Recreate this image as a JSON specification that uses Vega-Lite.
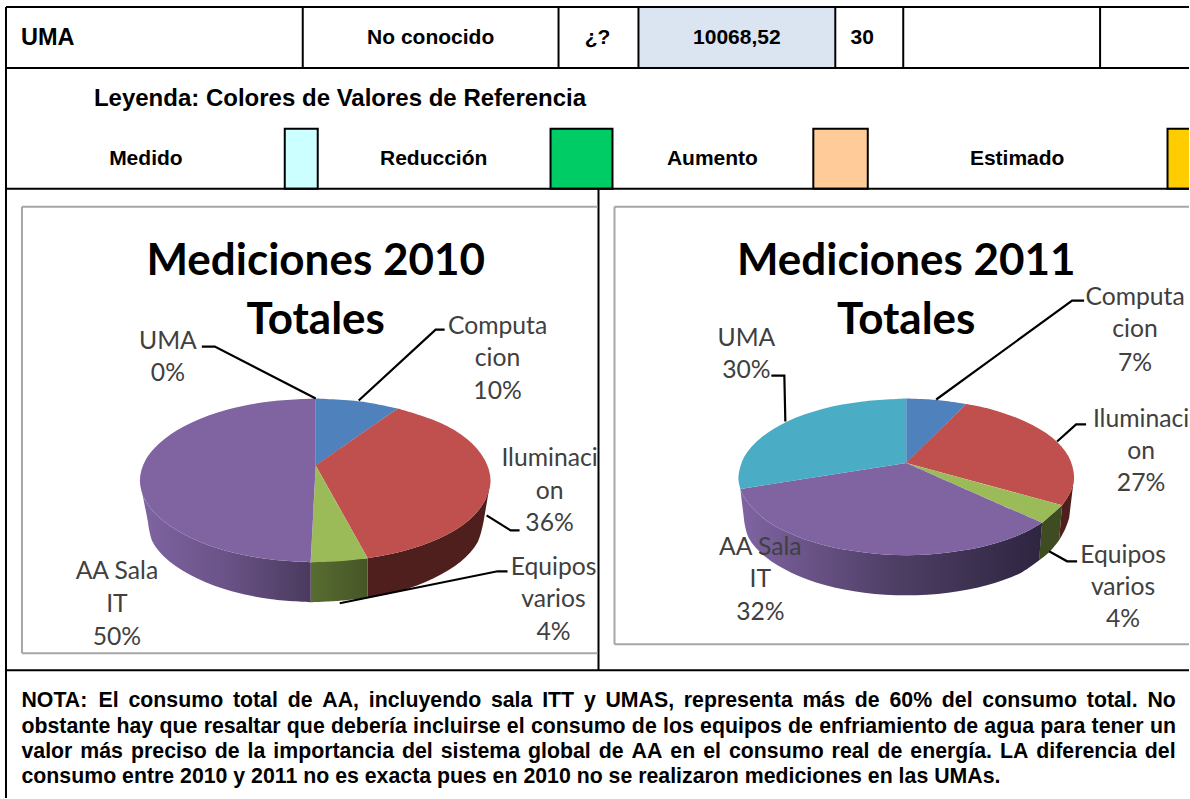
{"$schema":"https://vega.github.io/schema/vega-lite/v6.json","width":1190,"height":799,"padding":0,"autosize":{"type":"fit","contains":"padding"},"background":"white","config":{"view":{"stroke":null},"axis":{"domain":false}},
"resolve":{"scale":{"fill":"independent"}},
"encoding":{"x":{"field":"x","type":"quantitative","scale":{"domain":[0,1190],"nice":false,"zero":false},"axis":null},"y":{"field":"y","type":"quantitative","scale":{"domain":[799,0],"nice":false,"zero":false},"axis":null}},
"layer":[
{"data":{"values":[{"cell":"valor","x":639,"x2":836,"y":7,"y2":68}]},"mark":{"type":"rect","fill":"#dbe5f1"},"encoding":{"x2":{"field":"x2"},"y2":{"field":"y2"}}},
{"data":{"values":[{"cell":"Medido","x":285,"x2":318,"y":129,"y2":189},{"cell":"Reducción","x":551,"x2":613,"y":129,"y2":189},{"cell":"Aumento","x":814,"x2":868.5,"y":129,"y2":189},{"cell":"Estimado","x":1168.5,"x2":1200,"y":129,"y2":189}]},"mark":{"type":"rect","clip":true,"stroke":"black","strokeWidth":2},"encoding":{"x2":{"field":"x2"},"y2":{"field":"y2"},"fill":{"field":"cell","type":"nominal","legend":null,"scale":{"domain":["Medido","Reducción","Aumento","Estimado"],"range":["#ccffff","#00cc66","#ffcc99","#ffcc00"]}}}},
{"data":{"values":[{"x":6,"x2":1190,"y":7,"y2":7},{"x":6,"x2":1190,"y":68,"y2":68},{"x":6,"x2":1190,"y":189,"y2":189},{"x":6,"x2":1190,"y":671,"y2":671},{"x":6,"x2":6,"y":7,"y2":799},{"x":303,"x2":303,"y":7,"y2":68},{"x":559,"x2":559,"y":7,"y2":68},{"x":639,"x2":639,"y":7,"y2":68},{"x":836,"x2":836,"y":7,"y2":68},{"x":904,"x2":904,"y":7,"y2":68},{"x":1101,"x2":1101,"y":7,"y2":68},{"x":599,"x2":599,"y":189,"y2":671}]},"mark":{"type":"rule","stroke":"black","strokeWidth":2},"encoding":{"x2":{"field":"x2"},"y2":{"field":"y2"}}},
{"data":{"values":[{"x":22,"x2":598,"y":207,"y2":207},{"x":22,"x2":598,"y":654,"y2":654},{"x":22,"x2":22,"y":207,"y2":654},{"x":615,"x2":1190,"y":207,"y2":207},{"x":615,"x2":1190,"y":645,"y2":645},{"x":615,"x2":615,"y":207,"y2":645}]},"mark":{"type":"rule","stroke":"#a6a6a6","strokeWidth":2},"encoding":{"x2":{"field":"x2"},"y2":{"field":"y2"}}},
{"data":{"values":[
{"p":"w10red","o":1,"x":491,"y":481},{"p":"w10red","o":2,"x":491,"y":481},{"p":"w10red","o":3,"x":485,"y":502},{"p":"w10red","o":4,"x":468,"y":522},{"p":"w10red","o":5,"x":440,"y":539},{"p":"w10red","o":6,"x":403,"y":552},{"p":"w10red","o":7,"x":368,"y":559},{"p":"w10red","o":8,"x":368,"y":559},{"p":"w10red","o":9,"x":368,"y":598.5},{"p":"w10red","o":10,"x":368,"y":598.5},{"p":"w10red","o":11,"x":400,"y":592},{"p":"w10red","o":12,"x":434,"y":579},{"p":"w10red","o":13,"x":461,"y":562.5},{"p":"w10red","o":14,"x":478,"y":543},{"p":"w10red","o":15,"x":484,"y":522},{"p":"w10red","o":16,"x":484,"y":522},
{"p":"w11red","o":1,"x":1075,"y":477.5},{"p":"w11red","o":2,"x":1075,"y":477.5},{"p":"w11red","o":3,"x":1072,"y":491},{"p":"w11red","o":4,"x":1063,"y":506},{"p":"w11red","o":5,"x":1063,"y":506},{"p":"w11red","o":6,"x":1060,"y":541},{"p":"w11red","o":7,"x":1060,"y":541},{"p":"w11red","o":8,"x":1066,"y":530},{"p":"w11red","o":9,"x":1070,"y":519},{"p":"w11red","o":10,"x":1070,"y":519}
]},"mark":{"type":"line","fill":"#4f1f1d","strokeWidth":0,"interpolate":"catmull-rom"},"encoding":{"order":{"field":"o","type":"quantitative"},"detail":{"field":"p"}}},
{"data":{"values":[
{"p":"w10green","o":1,"x":368,"y":559},{"p":"w10green","o":2,"x":368,"y":559},{"p":"w10green","o":3,"x":311,"y":563},{"p":"w10green","o":4,"x":311,"y":563},{"p":"w10green","o":5,"x":311,"y":603},{"p":"w10green","o":6,"x":311,"y":603},{"p":"w10green","o":7,"x":340,"y":601.5},{"p":"w10green","o":8,"x":368,"y":598.5},{"p":"w10green","o":9,"x":368,"y":598.5}
]},"mark":{"type":"line","strokeWidth":0,"interpolate":"catmull-rom","fill":{"gradient":"linear","x1":0,"x2":1,"y1":0,"y2":0,"stops":[{"offset":0,"color":"#586d31"},{"offset":1,"color":"#465526"}]}},"encoding":{"order":{"field":"o","type":"quantitative"},"detail":{"field":"p"}}},
{"data":{"values":[
{"p":"w11green","o":1,"x":1063,"y":506},{"p":"w11green","o":2,"x":1063,"y":506},{"p":"w11green","o":3,"x":1043,"y":523.5},{"p":"w11green","o":4,"x":1043,"y":523.5},{"p":"w11green","o":5,"x":1040,"y":561},{"p":"w11green","o":6,"x":1040,"y":561},{"p":"w11green","o":7,"x":1050,"y":553},{"p":"w11green","o":8,"x":1060,"y":541},{"p":"w11green","o":9,"x":1060,"y":541}
]},"mark":{"type":"line","fill":"#3f4c22","strokeWidth":0,"interpolate":"catmull-rom"},"encoding":{"order":{"field":"o","type":"quantitative"},"detail":{"field":"p"}}},
{"data":{"values":[
{"p":"w10purple","o":1,"x":311,"y":563},{"p":"w10purple","o":2,"x":311,"y":563},{"p":"w10purple","o":3,"x":270,"y":560},{"p":"w10purple","o":4,"x":228,"y":552},{"p":"w10purple","o":5,"x":192,"y":539},{"p":"w10purple","o":6,"x":164,"y":522},{"p":"w10purple","o":7,"x":146,"y":502},{"p":"w10purple","o":8,"x":140,"y":481},{"p":"w10purple","o":9,"x":140,"y":481},{"p":"w10purple","o":10,"x":148,"y":522},{"p":"w10purple","o":11,"x":148,"y":522},{"p":"w10purple","o":12,"x":153,"y":543},{"p":"w10purple","o":13,"x":170,"y":562.5},{"p":"w10purple","o":14,"x":197,"y":579},{"p":"w10purple","o":15,"x":232,"y":592},{"p":"w10purple","o":16,"x":272,"y":600},{"p":"w10purple","o":17,"x":311,"y":603},{"p":"w10purple","o":18,"x":311,"y":603}
]},"mark":{"type":"line","strokeWidth":0,"interpolate":"catmull-rom","fill":{"gradient":"linear","x1":0,"x2":1,"y1":0,"y2":0,"stops":[{"offset":0,"color":"#7f64a2"},{"offset":0.5,"color":"#6a5387"},{"offset":1,"color":"#4a3a5e"}]}},"encoding":{"order":{"field":"o","type":"quantitative"},"detail":{"field":"p"}}},
{"data":{"values":[
{"p":"w11purple","o":1,"x":1043,"y":523.5},{"p":"w11purple","o":2,"x":1043,"y":523.5},{"p":"w11purple","o":3,"x":1026,"y":533},{"p":"w11purple","o":4,"x":991,"y":545.5},{"p":"w11purple","o":5,"x":951,"y":553},{"p":"w11purple","o":6,"x":907,"y":556},{"p":"w11purple","o":7,"x":863.5,"y":553},{"p":"w11purple","o":8,"x":823,"y":545.5},{"p":"w11purple","o":9,"x":788,"y":533},{"p":"w11purple","o":10,"x":761.7,"y":517},{"p":"w11purple","o":11,"x":745,"y":498},{"p":"w11purple","o":12,"x":741,"y":489.5},{"p":"w11purple","o":13,"x":741,"y":489.5},{"p":"w11purple","o":14,"x":745,"y":523},{"p":"w11purple","o":15,"x":745,"y":523},{"p":"w11purple","o":16,"x":749.5,"y":539},{"p":"w11purple","o":17,"x":766,"y":557.5},{"p":"w11purple","o":18,"x":792,"y":573.4},{"p":"w11purple","o":19,"x":825.5,"y":585.7},{"p":"w11purple","o":20,"x":865,"y":593.4},{"p":"w11purple","o":21,"x":907,"y":596},{"p":"w11purple","o":22,"x":949,"y":593.4},{"p":"w11purple","o":23,"x":988.5,"y":585.7},{"p":"w11purple","o":24,"x":1022,"y":573.4},{"p":"w11purple","o":25,"x":1040,"y":561},{"p":"w11purple","o":26,"x":1040,"y":561}
]},"mark":{"type":"line","strokeWidth":0,"interpolate":"catmull-rom","fill":{"gradient":"linear","x1":0,"x2":1,"y1":0,"y2":0,"stops":[{"offset":0,"color":"#7f64a2"},{"offset":0.5,"color":"#4f3f66"},{"offset":1,"color":"#2e2540"}]}},"encoding":{"order":{"field":"o","type":"quantitative"},"detail":{"field":"p"}}},
{"data":{"values":[
{"s":"Computacion","p":"10a","o":1,"x":316,"y":466},{"s":"Computacion","p":"10a","o":2,"x":316,"y":466},{"s":"Computacion","p":"10a","o":3,"x":316,"y":399},{"s":"Computacion","p":"10a","o":4,"x":316,"y":399},{"s":"Computacion","p":"10a","o":5,"x":361,"y":402},{"s":"Computacion","p":"10a","o":6,"x":398,"y":409},{"s":"Computacion","p":"10a","o":7,"x":398,"y":409},
{"s":"Iluminacion","p":"10b","o":1,"x":316,"y":466},{"s":"Iluminacion","p":"10b","o":2,"x":316,"y":466},{"s":"Iluminacion","p":"10b","o":3,"x":398,"y":409},{"s":"Iluminacion","p":"10b","o":4,"x":398,"y":409},{"s":"Iluminacion","p":"10b","o":5,"x":440,"y":423},{"s":"Iluminacion","p":"10b","o":6,"x":468,"y":440},{"s":"Iluminacion","p":"10b","o":7,"x":485,"y":460},{"s":"Iluminacion","p":"10b","o":8,"x":491,"y":481},{"s":"Iluminacion","p":"10b","o":9,"x":485,"y":502},{"s":"Iluminacion","p":"10b","o":10,"x":468,"y":522},{"s":"Iluminacion","p":"10b","o":11,"x":440,"y":539},{"s":"Iluminacion","p":"10b","o":12,"x":403,"y":552},{"s":"Iluminacion","p":"10b","o":13,"x":368,"y":559},{"s":"Iluminacion","p":"10b","o":14,"x":368,"y":559},
{"s":"Equipos varios","p":"10c","o":1,"x":316,"y":466},{"s":"Equipos varios","p":"10c","o":2,"x":316,"y":466},{"s":"Equipos varios","p":"10c","o":3,"x":368,"y":559},{"s":"Equipos varios","p":"10c","o":4,"x":368,"y":559},{"s":"Equipos varios","p":"10c","o":5,"x":340,"y":562},{"s":"Equipos varios","p":"10c","o":6,"x":311,"y":563},{"s":"Equipos varios","p":"10c","o":7,"x":311,"y":563},
{"s":"AA Sala IT","p":"10d","o":1,"x":316,"y":466},{"s":"AA Sala IT","p":"10d","o":2,"x":316,"y":466},{"s":"AA Sala IT","p":"10d","o":3,"x":311,"y":563},{"s":"AA Sala IT","p":"10d","o":4,"x":311,"y":563},{"s":"AA Sala IT","p":"10d","o":5,"x":270,"y":560},{"s":"AA Sala IT","p":"10d","o":6,"x":228,"y":552},{"s":"AA Sala IT","p":"10d","o":7,"x":192,"y":539},{"s":"AA Sala IT","p":"10d","o":8,"x":164,"y":522},{"s":"AA Sala IT","p":"10d","o":9,"x":146,"y":502},{"s":"AA Sala IT","p":"10d","o":10,"x":140,"y":481},{"s":"AA Sala IT","p":"10d","o":11,"x":146,"y":460},{"s":"AA Sala IT","p":"10d","o":12,"x":164,"y":440},{"s":"AA Sala IT","p":"10d","o":13,"x":192,"y":423},{"s":"AA Sala IT","p":"10d","o":14,"x":228,"y":410},{"s":"AA Sala IT","p":"10d","o":15,"x":270,"y":402},{"s":"AA Sala IT","p":"10d","o":16,"x":316,"y":399},{"s":"AA Sala IT","p":"10d","o":17,"x":316,"y":399},
{"s":"Computacion","p":"11a","o":1,"x":907,"y":463.5},{"s":"Computacion","p":"11a","o":2,"x":907,"y":463.5},{"s":"Computacion","p":"11a","o":3,"x":907,"y":399},{"s":"Computacion","p":"11a","o":4,"x":907,"y":399},{"s":"Computacion","p":"11a","o":5,"x":938,"y":400.5},{"s":"Computacion","p":"11a","o":6,"x":967,"y":404.5},{"s":"Computacion","p":"11a","o":7,"x":967,"y":404.5},
{"s":"Iluminacion","p":"11b","o":1,"x":907,"y":463.5},{"s":"Iluminacion","p":"11b","o":2,"x":907,"y":463.5},{"s":"Iluminacion","p":"11b","o":3,"x":967,"y":404.5},{"s":"Iluminacion","p":"11b","o":4,"x":967,"y":404.5},{"s":"Iluminacion","p":"11b","o":5,"x":991,"y":409.5},{"s":"Iluminacion","p":"11b","o":6,"x":1026,"y":422},{"s":"Iluminacion","p":"11b","o":7,"x":1053,"y":438},{"s":"Iluminacion","p":"11b","o":8,"x":1069.5,"y":457},{"s":"Iluminacion","p":"11b","o":9,"x":1075,"y":477.5},{"s":"Iluminacion","p":"11b","o":10,"x":1072,"y":491},{"s":"Iluminacion","p":"11b","o":11,"x":1063,"y":506},{"s":"Iluminacion","p":"11b","o":12,"x":1063,"y":506},
{"s":"Equipos varios","p":"11c","o":1,"x":907,"y":463.5},{"s":"Equipos varios","p":"11c","o":2,"x":907,"y":463.5},{"s":"Equipos varios","p":"11c","o":3,"x":1063,"y":506},{"s":"Equipos varios","p":"11c","o":4,"x":1063,"y":506},{"s":"Equipos varios","p":"11c","o":5,"x":1043,"y":523.5},{"s":"Equipos varios","p":"11c","o":6,"x":1043,"y":523.5},
{"s":"AA Sala IT","p":"11d","o":1,"x":907,"y":463.5},{"s":"AA Sala IT","p":"11d","o":2,"x":907,"y":463.5},{"s":"AA Sala IT","p":"11d","o":3,"x":1043,"y":523.5},{"s":"AA Sala IT","p":"11d","o":4,"x":1043,"y":523.5},{"s":"AA Sala IT","p":"11d","o":5,"x":1026,"y":533},{"s":"AA Sala IT","p":"11d","o":6,"x":991,"y":545.5},{"s":"AA Sala IT","p":"11d","o":7,"x":951,"y":553},{"s":"AA Sala IT","p":"11d","o":8,"x":907,"y":556},{"s":"AA Sala IT","p":"11d","o":9,"x":863.5,"y":553},{"s":"AA Sala IT","p":"11d","o":10,"x":823,"y":545.5},{"s":"AA Sala IT","p":"11d","o":11,"x":788,"y":533},{"s":"AA Sala IT","p":"11d","o":12,"x":761.7,"y":517},{"s":"AA Sala IT","p":"11d","o":13,"x":745,"y":498},{"s":"AA Sala IT","p":"11d","o":14,"x":741,"y":489.5},{"s":"AA Sala IT","p":"11d","o":15,"x":741,"y":489.5},
{"s":"UMA","p":"11e","o":1,"x":907,"y":463.5},{"s":"UMA","p":"11e","o":2,"x":907,"y":463.5},{"s":"UMA","p":"11e","o":3,"x":741,"y":489.5},{"s":"UMA","p":"11e","o":4,"x":741,"y":489.5},{"s":"UMA","p":"11e","o":5,"x":739,"y":477.5},{"s":"UMA","p":"11e","o":6,"x":745,"y":457},{"s":"UMA","p":"11e","o":7,"x":762,"y":438},{"s":"UMA","p":"11e","o":8,"x":788,"y":422},{"s":"UMA","p":"11e","o":9,"x":823,"y":409.5},{"s":"UMA","p":"11e","o":10,"x":863.5,"y":402},{"s":"UMA","p":"11e","o":11,"x":907,"y":399},{"s":"UMA","p":"11e","o":12,"x":907,"y":399}
]},"mark":{"type":"line","strokeWidth":0,"interpolate":"catmull-rom"},"encoding":{"order":{"field":"o","type":"quantitative"},"detail":{"field":"p"},"fill":{"field":"s","type":"nominal","legend":null,"scale":{"domain":["Computacion","Iluminacion","Equipos varios","AA Sala IT","UMA"],"range":["#4f81bd","#c0504d","#9bbb59","#8064a2","#4bacc6"]}}}},
{"data":{"values":[
{"l":"a","o":1,"x":202,"y":347},{"l":"a","o":2,"x":215,"y":347},{"l":"a","o":3,"x":316,"y":399},
{"l":"b","o":1,"x":359,"y":401},{"l":"b","o":2,"x":436,"y":330},{"l":"b","o":3,"x":445,"y":330},
{"l":"c","o":1,"x":487,"y":516},{"l":"c","o":2,"x":511,"y":531},{"l":"c","o":3,"x":520,"y":531},
{"l":"d","o":1,"x":340,"y":604},{"l":"d","o":2,"x":498,"y":572},{"l":"d","o":3,"x":508,"y":572},
{"l":"e","o":1,"x":772,"y":376},{"l":"e","o":2,"x":785,"y":376},{"l":"e","o":3,"x":786,"y":422},
{"l":"f","o":1,"x":937,"y":400},{"l":"f","o":2,"x":1073,"y":301},{"l":"f","o":3,"x":1085,"y":301},
{"l":"g","o":1,"x":1058,"y":442},{"l":"g","o":2,"x":1077,"y":425},{"l":"g","o":3,"x":1087,"y":425},
{"l":"h","o":1,"x":1050,"y":552},{"l":"h","o":2,"x":1068,"y":562},{"l":"h","o":3,"x":1078,"y":562}
]},"mark":{"type":"line","stroke":"black","strokeWidth":2.2},"encoding":{"order":{"field":"o","type":"quantitative"},"detail":{"field":"l"}}},
{"data":{"values":[{"t":"Mediciones 2010","x":316,"y":262},{"t":"Totales","x":316,"y":321},{"t":"Mediciones 2011","x":907,"y":262},{"t":"Totales","x":907,"y":321}]},"mark":{"type":"text","font":"Lato","fontWeight":"bold","fontSize":44,"color":"black","align":"center","baseline":"middle"},"encoding":{"text":{"field":"t"}}},
{"data":{"values":[{"t":"Computa","x":498,"y":327},{"t":"cion","x":498,"y":359},{"t":"10%","x":498,"y":392},{"t":"UMA","x":168,"y":342},{"t":"0%","x":168,"y":374},{"t":"Iluminaci","x":550,"y":460},{"t":"on","x":550,"y":493},{"t":"36%","x":550,"y":525},{"t":"Equipos","x":554,"y":569},{"t":"varios","x":554,"y":601},{"t":"4%","x":554,"y":634},{"t":"AA Sala","x":117,"y":573},{"t":"IT","x":117,"y":606},{"t":"50%","x":117,"y":639},{"t":"Computa","x":1136,"y":298},{"t":"cion","x":1136,"y":330},{"t":"7%","x":1136,"y":364},{"t":"Iluminaci","x":1142,"y":421},{"t":"on","x":1142,"y":453},{"t":"27%","x":1142,"y":485},{"t":"Equipos","x":1124,"y":557},{"t":"varios","x":1124,"y":589},{"t":"4%","x":1124,"y":621},{"t":"UMA","x":747,"y":339},{"t":"30%","x":747,"y":371},{"t":"AA Sala","x":761,"y":549},{"t":"IT","x":761,"y":581},{"t":"32%","x":761,"y":614}]},"mark":{"type":"text","font":"Lato","fontSize":24.7,"color":"#404040","align":"center","baseline":"middle"},"encoding":{"text":{"field":"t"}}},
{"data":{"values":[{"t":"No conocido","x":431,"y":38.5},{"t":"¿?","x":598,"y":38.5},{"t":"10068,52","x":737.5,"y":38.5},{"t":"30","x":863,"y":38.5},{"t":"Medido","x":146,"y":159.5},{"t":"Reducción","x":434,"y":159.5},{"t":"Aumento","x":713,"y":159.5},{"t":"Estimado","x":1018,"y":159.5}]},"mark":{"type":"text","font":"Liberation Sans","fontWeight":"bold","fontSize":21,"color":"black","align":"center","baseline":"middle"},"encoding":{"text":{"field":"t"}}},
{"data":{"values":[{"t":"UMA","x":21,"y":38.5}]},"mark":{"type":"text","font":"Liberation Sans","fontWeight":"bold","fontSize":23.5,"color":"black","align":"left","baseline":"middle"},"encoding":{"text":{"field":"t"}}},
{"data":{"values":[{"t":"Leyenda: Colores de Valores de Referencia","x":94,"y":99.5}]},"mark":{"type":"text","font":"Liberation Sans","fontWeight":"bold","fontSize":24,"color":"black","align":"left","baseline":"middle"},"encoding":{"text":{"field":"t"}}},
{"data":{"values":[
{"t":"NOTA:","x":21.5,"y":701.5},{"t":"El","x":98.7,"y":701.5},{"t":"consumo","x":128.6,"y":701.5},{"t":"total","x":233.1,"y":701.5},{"t":"de","x":287.9,"y":701.5},{"t":"AA,","x":322.6,"y":701.5},{"t":"incluyendo","x":369.1,"y":701.5},{"t":"sala","x":491.3,"y":701.5},{"t":"ITT","x":542.6,"y":701.5},{"t":"y","x":584.4,"y":701.5},{"t":"UMAS,","x":606,"y":701.5},{"t":"representa","x":684.4,"y":701.5},{"t":"más","x":803.1,"y":701.5},{"t":"de","x":855.5,"y":701.5},{"t":"60%","x":890.2,"y":701.5},{"t":"del","x":942.6,"y":701.5},{"t":"consumo","x":983.2,"y":701.5},{"t":"total.","x":1087.7,"y":701.5},{"t":"No","x":1148.4,"y":701.5},
{"t":"obstante","x":21.5,"y":727.5},{"t":"hay","x":116.6,"y":727.5},{"t":"que","x":159.6,"y":727.5},{"t":"resaltar","x":203.8,"y":727.5},{"t":"que","x":287.1,"y":727.5},{"t":"debería","x":331.3,"y":727.5},{"t":"incluirse","x":413.4,"y":727.5},{"t":"el","x":507.3,"y":727.5},{"t":"consumo","x":531.4,"y":727.5},{"t":"de","x":632.4,"y":727.5},{"t":"los","x":663.6,"y":727.5},{"t":"equipos","x":700.7,"y":727.5},{"t":"de","x":788.7,"y":727.5},{"t":"enfriamiento","x":819.9,"y":727.5},{"t":"de","x":954,"y":727.5},{"t":"agua","x":985.2,"y":727.5},{"t":"para","x":1041.2,"y":727.5},{"t":"tener","x":1092.5,"y":727.5},{"t":"un","x":1150.9,"y":727.5},
{"t":"valor","x":21.5,"y":752.5},{"t":"más","x":80.4,"y":752.5},{"t":"preciso","x":131.1,"y":752.5},{"t":"de","x":214.9,"y":752.5},{"t":"la","x":247.8,"y":752.5},{"t":"importancia","x":273.6,"y":752.5},{"t":"del","x":402.3,"y":752.5},{"t":"sistema","x":441.1,"y":752.5},{"t":"global","x":528.4,"y":752.5},{"t":"de","x":599.2,"y":752.5},{"t":"AA","x":632.1,"y":752.5},{"t":"en","x":670.9,"y":752.5},{"t":"el","x":703.8,"y":752.5},{"t":"consumo","x":729.6,"y":752.5},{"t":"real","x":832.3,"y":752.5},{"t":"de","x":878.2,"y":752.5},{"t":"energía.","x":911.1,"y":752.5},{"t":"LA","x":1000.8,"y":752.5},{"t":"diferencia","x":1037.2,"y":752.5},{"t":"del","x":1145.8,"y":752.5},
{"t":"consumo entre 2010 y 2011 no es exacta pues en 2010 no se realizaron mediciones en las UMAs.","x":21.5,"y":777.5}
]},"mark":{"type":"text","font":"Liberation Sans","fontWeight":"bold","fontSize":21.3,"color":"black","align":"left","baseline":"middle"},"encoding":{"text":{"field":"t"}}}
]}
